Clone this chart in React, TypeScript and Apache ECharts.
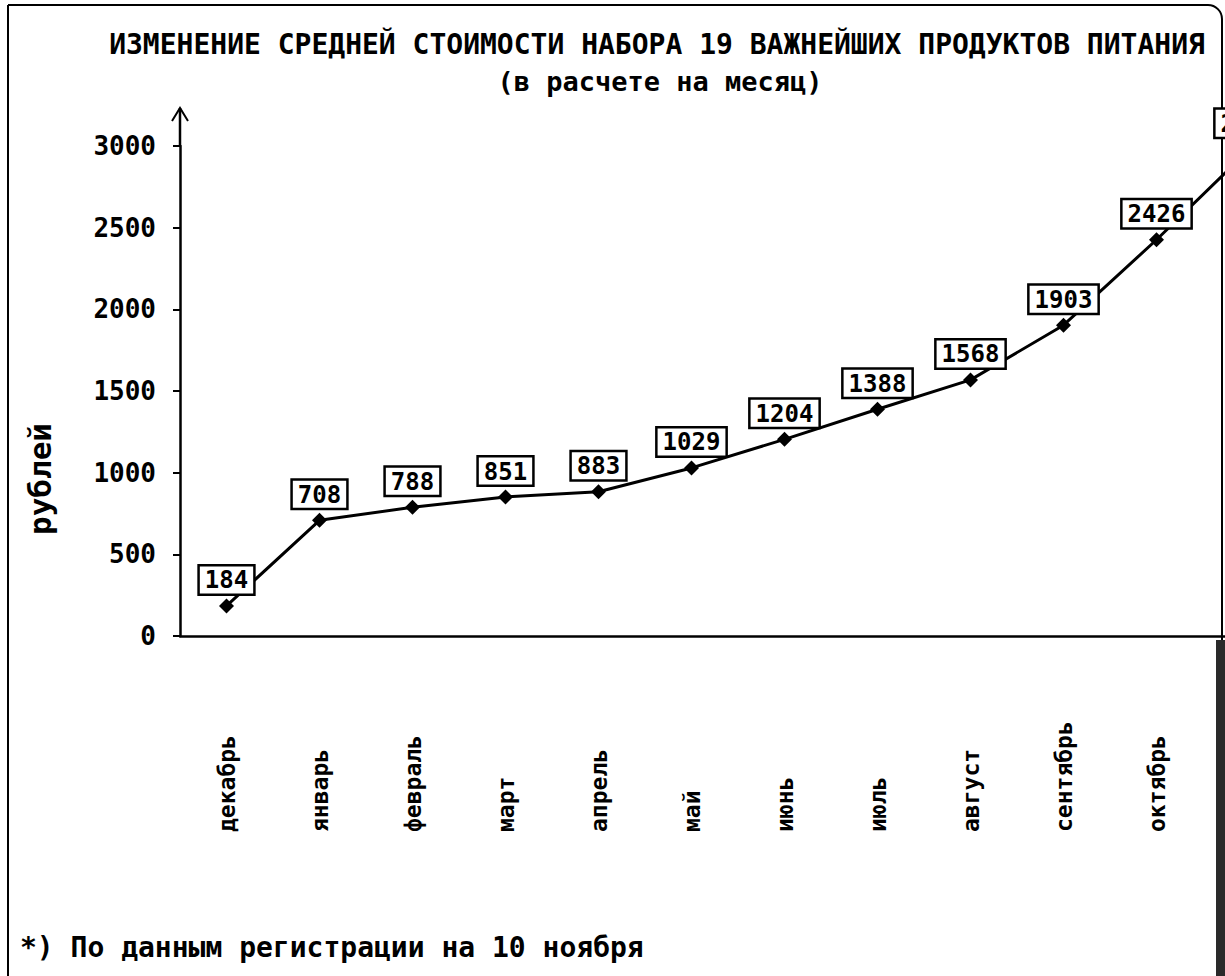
import React, { useEffect, useRef } from 'react';
import * as echarts from 'echarts';

const months = ['декабрь', 'январь', 'февраль', 'март', 'апрель', 'май', 'июнь', 'июль', 'август', 'сентябрь', 'октябрь', 'ноябрь*'];
const costs = [184, 708, 788, 851, 883, 1029, 1204, 1388, 1568, 1903, 2426, 2980];
const yMin = 0;
const yMax = 3000;
const yInterval = 500;

const titleText = 'ИЗМЕНЕНИЕ СРЕДНЕЙ СТОИМОСТИ НАБОРА 19 ВАЖНЕЙШИХ ПРОДУКТОВ ПИТАНИЯ';
const subtitleText = '(в расчете на месяц)';
const yName = 'рублей';
const footnote = '*) По данным регистрации на 10 ноября';

const MONO = '"DejaVu Sans Mono", "Liberation Mono", monospace';

export default function App() {
  const ref = useRef<HTMLDivElement>(null);
  useEffect(() => {
    if (!ref.current) return;
    const chart = echarts.init(ref.current, null, { renderer: 'svg' });
    const gridLeft = 180;
    const gridTop = 146;
    const gridHeight = 490;
    const catW = 93;
    const lastVisible = months.length - 2;
    chart.setOption({
      animation: false,
      backgroundColor: '#ffffff',
      graphic: [
        {
          type: 'rect',
          shape: { x: 8, y: 5, width: 1214, height: 1100, r: [0, 14, 0, 0] },
          style: { fill: 'none', stroke: '#000', lineWidth: 2 },
          silent: true,
        },
        {
          type: 'rect',
          shape: { x: 1216, y: 640, width: 10, height: 340 },
          style: { fill: '#2a2a2a' },
          silent: true,
        },
        {
          type: 'line',
          shape: { x1: gridLeft, y1: gridTop, x2: gridLeft, y2: 108 },
          style: { stroke: '#000', lineWidth: 2.5 },
          silent: true,
        },
        {
          type: 'polyline',
          shape: { points: [[gridLeft - 8, 121], [gridLeft, 108], [gridLeft + 8, 121]] },
          style: { stroke: '#000', lineWidth: 2, fill: 'none' },
          silent: true,
        },
        {
          type: 'text',
          x: 40,
          y: 479,
          rotation: Math.PI / 2,
          style: {
            text: yName,
            fontFamily: MONO,
            fontWeight: 'bold',
            fontSize: 31,
            fill: '#000',
            align: 'center',
            verticalAlign: 'middle',
          },
        },
        {
          type: 'text',
          x: 20,
          y: 947,
          style: {
            text: footnote,
            fontFamily: MONO,
            fontWeight: 'bold',
            fontSize: 28,
            fill: '#000',
            align: 'left',
            verticalAlign: 'middle',
          },
        },
        {
          type: 'text',
          x: 657,
          y: 44,
          style: {
            text: titleText,
            fontFamily: MONO,
            fontWeight: 'bold',
            fontSize: 28,
            fill: '#000',
            align: 'center',
            verticalAlign: 'middle',
          },
        },
        {
          type: 'text',
          x: 660,
          y: 81,
          style: {
            text: subtitleText,
            fontFamily: MONO,
            fontWeight: 'bold',
            fontSize: 27,
            fill: '#000',
            align: 'center',
            verticalAlign: 'middle',
          },
        },
      ],
      grid: { left: gridLeft, top: gridTop, width: catW * months.length, height: gridHeight },
      xAxis: {
        type: 'category',
        data: months,
        boundaryGap: true,
        axisLine: { lineStyle: { color: '#000', width: 2.5 } },
        axisTick: { alignWithLabel: true, length: 14, lineStyle: { color: '#000', width: 2 } },
        axisLabel: {
          rotate: 90,
          align: 'left',
          verticalAlign: 'middle',
          margin: 196,
          interval: (index: number) => index <= lastVisible,
          fontFamily: MONO,
          fontWeight: 'bold',
          fontSize: 23,
          color: '#000',
        },
        splitLine: { show: false },
      },
      yAxis: {
        type: 'value',
        min: yMin,
        max: yMax,
        interval: yInterval,
        axisLine: { show: true, lineStyle: { color: '#000', width: 2.5 } },
        axisTick: { show: true, length: 7, lineStyle: { color: '#000', width: 2 } },
        axisLabel: {
          fontFamily: MONO,
          fontWeight: 'bold',
          fontSize: 26,
          color: '#000',
          margin: 24,
          formatter: (v: number) => String(v),
        },
        splitLine: { show: false },
      },
      series: [
        {
          type: 'line',
          data: costs,
          symbol: 'diamond',
          symbolSize: 15,
          itemStyle: { color: '#000' },
          lineStyle: { color: '#000', width: 3 },
          label: {
            show: true,
            position: 'top',
            distance: 5,
            formatter: '{c}',
            fontFamily: MONO,
            fontWeight: 'bold',
            fontSize: 24,
            color: '#000',
            backgroundColor: '#fff',
            borderColor: '#000',
            borderWidth: 2.5,
            padding: [2, 5, 1, 5],
          },
        },
      ],
    });
    return () => chart.dispose();
  }, []);
  return (
    <div style={{ position: 'fixed', left: 0, top: 0, width: 1225, height: 976, overflow: 'hidden', background: '#fff' }}>
      <div ref={ref} style={{ width: 1340, height: 976 }} />
    </div>
  );
}
